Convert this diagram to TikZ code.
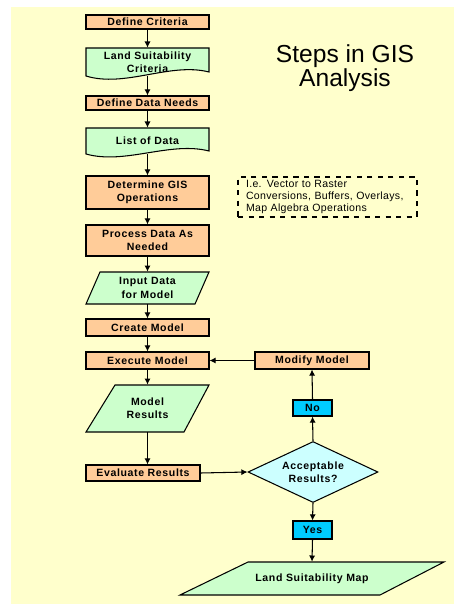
\documentclass[tikz,border=0pt]{standalone}
\usepackage{fontspec}
\setmainfont{Liberation Sans}
\newfontfamily\boxfont{Liberation Sans}[LetterSpace=6]
\usetikzlibrary{shapes.geometric,arrows.meta}
\definecolor{bgyellow}{HTML}{FFFFCC}
\definecolor{stepfill}{HTML}{FFCC99}
\definecolor{datafill}{HTML}{CCFFCC}
\definecolor{askfill}{HTML}{CCFFFF}
\definecolor{answerfill}{HTML}{00CCFF}
\tikzset{
	steptext/.style={font=\boxfont\bfseries\fontsize{6}{7.5}\selectfont, align=center, inner sep=0pt, rectangle},
	stepbox/.style={steptext, draw=black, line width=0.6pt, fill=stepfill},
	answerbox/.style={steptext, draw=black, line width=0.6pt, fill=answerfill, minimum width=0.78cm},
	datashape/.style={draw=black, line width=0.6pt, fill=datafill},
	flow/.style={-{Latex[length=3.5pt,width=3.5pt]}, line width=0.6pt},
}

\begin{document}
\begin{tikzpicture}[x=0.02cm, y=-0.02cm]
		%%%%% START %%%%%
		
		\useasboundingbox (0, 0) rectangle (454, 604);
		\fill[bgyellow] (11, 7) rectangle (454, 604);
		
		\node[font=\fontsize{14}{13}\selectfont, align=center] (title) at (345, 68) {Steps in GIS\\Analysis};
		
		% main column
		\node[stepbox, minimum width=2.46cm, minimum height=0.28cm] (crit) at (147.5, 22) {Define Criteria};
		
		\draw[datashape] (86, 48) -- (209, 48) -- (209, 72) .. controls (170, 62) and (125, 88) .. (86, 76) -- cycle;
		\node[steptext, minimum width=2.46cm, minimum height=0.56cm] (suit) at (147.5, 62) {Land Suitability\\Criteria};
		
		\node[stepbox, minimum width=2.46cm, minimum height=0.28cm] (needs) at (147.5, 103) {Define Data Needs};
		
		\draw[datashape] (86, 128) -- (209, 128) -- (209, 151) .. controls (170, 141) and (125, 165) .. (86, 154) -- cycle;
		\node[steptext, minimum width=2.46cm, minimum height=0.52cm] (datalist) at (147.5, 141) {List of Data};
		
		\node[stepbox, minimum width=2.46cm, minimum height=0.66cm] (gisops) at (147.5, 192.5) {Determine GIS\\Operations};
		\node[stepbox, minimum width=2.46cm, minimum height=0.62cm] (process) at (147.5, 240.5) {Process Data As\\Needed};
		
		\draw[datashape] (100, 272) -- (209, 272) -- (195, 304) -- (86, 304) -- cycle;
		\node[steptext, minimum width=2.46cm, minimum height=0.64cm] (input) at (147.5, 288) {Input Data\\for Model};
		
		\node[stepbox, minimum width=2.46cm, minimum height=0.34cm] (create) at (147.5, 327.5) {Create Model};
		\node[stepbox, minimum width=2.46cm, minimum height=0.34cm] (execute) at (147.5, 360.5) {Execute Model};
		
		\draw[datashape] (115, 385) -- (209, 385) -- (184, 432) -- (86, 432) -- cycle;
		\node[steptext, minimum width=2.46cm, minimum height=0.94cm] (results) at (147.5, 408.5) {Model\\Results};
		
		\node[stepbox, minimum width=2.28cm, minimum height=0.32cm] (evaluate) at (143, 473) {Evaluate Results};
		
		% decision column
		\node[steptext, diamond, aspect=2.1, draw=black, line width=0.6pt, fill=askfill, minimum width=2.6cm, minimum height=1.22cm] (accept) at (313, 472) {Acceptable\\Results?};
		\node[answerbox, minimum height=0.32cm] (no) at (312.5, 408) {No};
		\node[stepbox, minimum width=2.28cm, minimum height=0.34cm] (modify) at (312, 360.5) {Modify Model};
		\node[answerbox, minimum height=0.36cm] (yes) at (312.5, 530) {Yes};
		
		\draw[datashape] (248, 562) -- (444, 562) -- (380, 595) -- (180, 595) -- cycle;
		\node[steptext, minimum width=5.28cm, minimum height=0.66cm] (map) at (312, 578.5) {Land Suitability Map};
		
		\node[draw=black, dashed, line width=0.6pt, font=\fontsize{6}{6.8}\selectfont\addfontfeature{LetterSpace=3}, align=left, text width=3.26cm, inner xsep=0.16cm, inner ysep=0pt, minimum height=0.8cm] (note) at (327.5, 197) {I.e. Vector to Raster\\Conversions, Buffers, Overlays,\\Map Algebra Operations};
		
		% connectors
		\draw[flow] (crit) -- (suit);
		\draw[flow] (suit) -- (needs);
		\draw[flow] (needs) -- (datalist);
		\draw[flow] (datalist) -- (gisops);
		\draw[flow] (gisops) -- (process);
		\draw[flow] (process) -- (input);
		\draw[flow] (input) -- (create);
		\draw[flow] (create) -- (execute);
		\draw[flow] (execute) -- (results);
		\draw[flow] (results.south) -- (results.south |- evaluate.north);
		\draw[flow] (evaluate.east) -- (accept.west);
		\draw[flow] (accept.north) -- (no.south);
		\draw[flow] (no.north) -- (modify.south);
		\draw[flow] (modify.west) -- (execute.east);
		\draw[flow] (accept.south) -- (yes.north);
		\draw[flow] (yes.south) -- (map.north);
		
		%%%%% END %%%%%
\end{tikzpicture}
\end{document}
